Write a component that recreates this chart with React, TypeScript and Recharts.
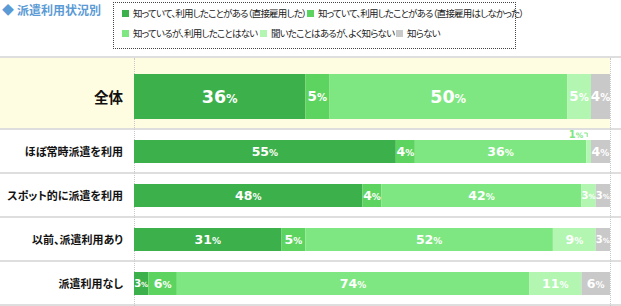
import React from "react";
import { BarChart, Bar, XAxis, YAxis, LabelList } from "recharts";

const categories = [
  "全体",
  "ほぼ常時派遣を利用",
  "スポット的に派遣を利用",
  "以前、派遣利用あり",
  "派遣利用なし",
];

const seriesNames = [
  "知っていて、利用したことがある（直接雇用した）",
  "知っていて、利用したことがある（直接雇用はしなかった）",
  "知っているが、利用したことはない",
  "聞いたことはあるが、よく知らない",
  "知らない",
];

const seriesColors = ["#3cb04a", "#5dd460", "#7ee781", "#b2f6b2", "#c9c9c9"];

const usedDirectHire = [36, 55, 48, 31, 3];
const usedNoDirectHire = [5, 4, 4, 5, 6];
const knownNotUsed = [50, 36, 42, 52, 74];
const heardOnly = [5, 1, 3, 9, 11];
const unknown = [4, 4, 3, 3, 6];

const seriesValues = [usedDirectHire, usedNoDirectHire, knownNotUsed, heardOnly, unknown];
const keys = ["s0", "s1", "s2", "s3", "s4"];

const rows = categories.map((name, i) => {
  const r: any = { name };
  keys.forEach((k, j) => (r[k] = seriesValues[j][i]));
  return r;
});

// legend item placement inside the dotted box
const legendPos = [
  { left: 122, top: 6 },
  { left: 307, top: 6 },
  { left: 122, top: 26 },
  { left: 260, top: 26 },
  { left: 396, top: 26 },
];

const jpFont = "'Noto Sans CJK JP', 'Noto Sans', sans-serif";
const numFont = "'DejaVu Sans', sans-serif";
const outsideLabelColor = "#7ee781";

const makeLabel = (big: boolean) => (props: any) => {
  const { x, y, width, height, value } = props;
  const v = Number(value);
  if (!v) return null;
  if (width < 8) {
    return (
      <g>
        <text x={x - 3} y={y - 2} textAnchor="end" fill={outsideLabelColor} fontWeight="bold" fontFamily={numFont}>
          <tspan fontSize={10}>{v}</tspan>
          <tspan fontSize={7.5}>%</tspan>
        </text>
        <path d={`M${x - 2},${y - 7}H${x + 1}V${y - 3}`} stroke={outsideLabelColor} fill="none" strokeWidth={1} />
      </g>
    );
  }
  let n = big ? (v >= 10 ? 17.5 : 13.5) : 12.5;
  let p = big ? (v >= 10 ? 11.5 : 10) : 9;
  if (!big && width < 17) {
    n = 10;
    p = 7;
  }
  const cx = x + width / 2;
  const cy = y + height / 2;
  return (
    <text x={cx} y={cy + n * 0.36} textAnchor="middle" fill="#fff" fontWeight="bold" fontFamily={numFont}>
      <tspan fontSize={n}>{v}</tspan>
      <tspan fontSize={p}>%</tspan>
    </text>
  );
};

const makeTick = (size: number) => (props: any) => {
  const { x, y, payload } = props;
  return (
    <text
      x={x - 3}
      y={y}
      textAnchor="end"
      dominantBaseline="central"
      fontSize={size}
      fontWeight="bold"
      fill="#111"
      fontFamily={jpFont}
      style={{ fontFeatureSettings: "'palt'" }}
    >
      {payload.value}
    </text>
  );
};

function StackChart({ data, big, height, top, barSize, marginTop }: any) {
  return (
    <div style={{ position: "absolute", left: 0, top }}>
      <BarChart
        width={621}
        height={height}
        data={data}
        layout="vertical"
        margin={{ top: marginTop, right: 11, bottom: 0, left: 0 }}
        barSize={barSize}
      >
        <XAxis type="number" domain={[0, 100]} hide />
        <YAxis
          type="category"
          dataKey="name"
          width={134}
          axisLine={false}
          tickLine={false}
          tick={makeTick(big ? 14.5 : 11)}
        />
        {keys.map((k, j) => (
          <Bar key={k} dataKey={k} stackId="a" fill={seriesColors[j]} isAnimationActive={false}>
            <LabelList dataKey={k} content={makeLabel(big)} />
          </Bar>
        ))}
      </BarChart>
    </div>
  );
}

const hLine = (top: number) => (
  <div key={top} style={{ position: "absolute", left: 0, top, width: 621, height: 2, background: "#dedede" }} />
);

export default function App() {
  return (
    <div style={{ position: "absolute", left: 0, top: 0, width: 621, height: 306, background: "#fff", overflow: "hidden" }}>
      <div
        style={{
          position: "absolute",
          left: 2,
          top: 1,
          fontFamily: jpFont,
          fontWeight: "bold",
          fontSize: 12,
          color: "#5b9bd5",
          whiteSpace: "nowrap",
        }}
      >
        <span style={{ marginRight: 3 }}>◆</span>派遣利用状況別
      </div>

      <div
        style={{
          position: "absolute",
          left: 113,
          top: 2,
          width: 401,
          height: 45,
          border: "1px dotted #444",
        }}
      />
      {seriesNames.map((s, j) => (
        <div
          key={s}
          style={{
            position: "absolute",
            left: legendPos[j].left,
            top: legendPos[j].top,
            display: "flex",
            alignItems: "center",
            fontFamily: jpFont,
            fontSize: 9.5,
            letterSpacing: -0.8,
            color: "#222",
            whiteSpace: "nowrap",
            fontFeatureSettings: "'palt'",
          }}
        >
          <span style={{ width: 7, height: 7, background: seriesColors[j], marginRight: 4, display: "inline-block" }} />
          {s}
        </div>
      ))}

      {hLine(56)}
      <div style={{ position: "absolute", left: 0, top: 58, width: 610, height: 70, background: "#fffde1" }} />
      {[128, 172, 216, 260, 304].map(hLine)}
      <div style={{ position: "absolute", left: 134, top: 58, height: 248, borderLeft: "1px dotted #c8c8c8" }} />
      <div style={{ position: "absolute", left: 610, top: 58, height: 248, borderLeft: "1px dotted #c8c8c8" }} />

      <StackChart data={rows.slice(0, 1)} big height={68} top={61} barSize={45} marginTop={3} />
      <StackChart data={rows.slice(1)} big={false} height={176} top={129} barSize={23} marginTop={0} />
    </div>
  );
}
